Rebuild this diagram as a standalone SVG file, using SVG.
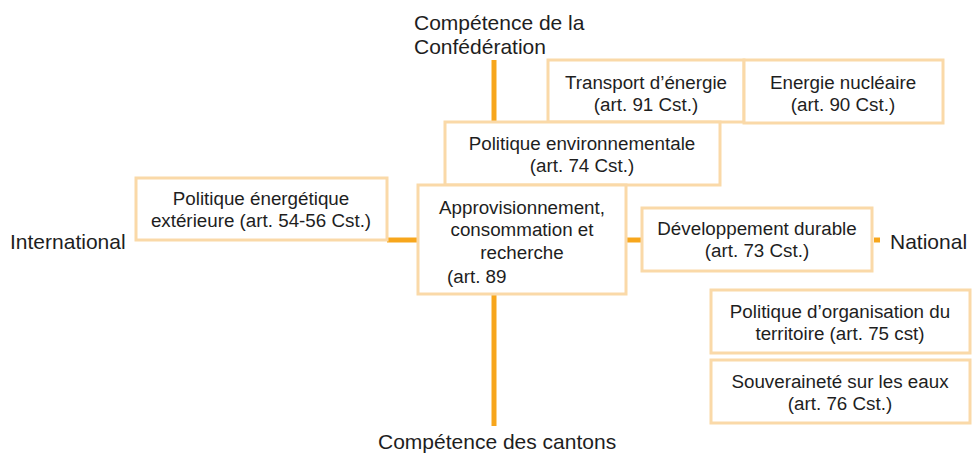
<svg xmlns="http://www.w3.org/2000/svg" width="972" height="454" viewBox="0 0 972 454">
<style>
.box{fill:#fff;stroke:#fad9a8;stroke-width:3}
.ln{stroke:#f7a61c;stroke-width:5;fill:none}
text{font-family:"Liberation Sans",Arial,sans-serif;font-size:18.8px;fill:#1e1e1e}
.c{text-anchor:middle}
.ax{font-size:21px}
</style>
<rect width="972" height="454" fill="#fff"/>
<g id="connectors">
<line class="ln" x1="494" y1="60" x2="494" y2="123"/>
<line class="ln" x1="494" y1="294" x2="494" y2="426"/>
<line class="ln" x1="387" y1="240" x2="418" y2="240"/>
<line class="ln" x1="626" y1="240" x2="642" y2="240"/>
<line class="ln" x1="874" y1="240" x2="880" y2="240"/>
</g>
<g id="axis-top"><text class="ax" x="414" y="30">Compétence de la</text><text class="ax" x="414" y="54">Confédération</text></g>
<g id="axis-bottom"><text class="ax" x="378" y="449">Compétence des cantons</text></g>
<g id="axis-left"><text class="ax" x="10" y="249">International</text></g>
<g id="axis-right"><text class="ax" x="890" y="249">National</text></g>
<g id="transport"><rect class="box" x="548" y="60" width="196" height="62"/><text class="c" x="646" y="89">Transport d’énergie</text><text class="c" x="646" y="111">(art. 91 Cst.)</text></g>
<g id="nucleaire"><rect class="box" x="744" y="60" width="199" height="63"/><text class="c" x="843" y="89">Energie nucléaire</text><text class="c" x="843" y="111">(art. 90 Cst.)</text></g>
<g id="environnement"><rect class="box" x="445" y="122" width="275" height="63"/><text class="c" x="582" y="150">Politique environnementale</text><text class="c" x="582" y="172">(art. 74 Cst.)</text></g>
<g id="exterieure"><rect class="box" x="136" y="178" width="251" height="62"/><text class="c" x="261" y="205">Politique énergétique</text><text class="c" x="261" y="227">extérieure (art. 54-56 Cst.)</text></g>
<g id="approvisionnement"><rect class="box" x="418" y="185" width="208" height="109"/><text class="c" x="522" y="214">Approvisionnement,</text><text class="c" x="522" y="236">consommation et</text><text class="c" x="522" y="259">recherche</text><text x="447" y="283">(art. 89</text></g>
<g id="durable"><rect class="box" x="642" y="208" width="230" height="63"/><text class="c" x="757" y="235">Développement durable</text><text class="c" x="757" y="257">(art. 73 Cst.)</text></g>
<g id="territoire"><rect class="box" x="711" y="290" width="259" height="63"/><text class="c" x="840" y="318">Politique d’organisation du</text><text class="c" x="840" y="340">territoire (art. 75 cst)</text></g>
<g id="eaux"><rect class="box" x="711" y="360" width="259" height="63"/><text class="c" x="840" y="388">Souveraineté sur les eaux</text><text class="c" x="840" y="410">(art. 76 Cst.)</text></g>
</svg>
